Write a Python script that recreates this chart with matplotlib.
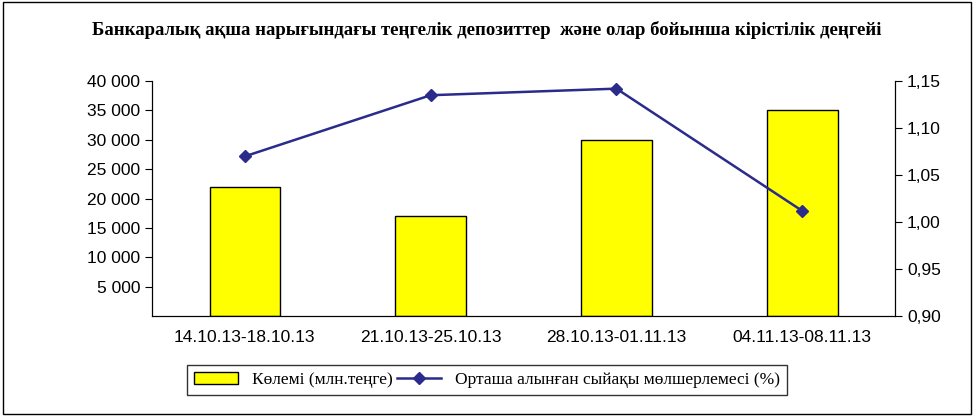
import matplotlib.pyplot as plt
from matplotlib.ticker import FuncFormatter
from matplotlib.patches import Rectangle

periods = ["14.10.13-18.10.13", "21.10.13-25.10.13", "28.10.13-01.11.13", "04.11.13-08.11.13"]
volume = [22000, 17000, 30000, 35000]
rate = [1.07, 1.135, 1.142, 1.012]

plt.rcParams["font.family"] = ["Liberation Sans", "DejaVu Sans"]

fig = plt.figure(figsize=(9.74, 4.16), dpi=100)
ax = fig.add_axes([0.156, 0.24, 0.763, 0.565])
ax2 = ax.twinx()

x = range(len(periods))
bars = ax.bar(x, volume, width=0.38, color="#FFFF00", edgecolor="black", linewidth=1,
              label="Көлемі (млн.теңге)")
line, = ax2.plot(x, rate, color="#2B2B8C", marker="D", markersize=6, linewidth=1.8,
                 label="Орташа алынған сыйақы мөлшерлемесі (%)")

ax.set_xlim(-0.5, 3.5)
ax.set_ylim(0, 40000)
ax.set_yticks(range(5000, 40001, 5000))
ax.yaxis.set_major_formatter(FuncFormatter(lambda v, p: f"{int(v):,}".replace(",", " ")))
ax2.set_ylim(0.90, 1.15)
ax2.set_yticks([0.90, 0.95, 1.00, 1.05, 1.10, 1.15])
ax2.yaxis.set_major_formatter(FuncFormatter(lambda v, p: f"{v:.2f}".replace(".", ",")))
ax.set_xticks(list(x))
ax.set_xticklabels(periods)

for a in (ax, ax2):
    a.spines["top"].set_visible(False)
    a.tick_params(labelsize=12.5, direction="out", length=5)
ax.tick_params(axis="x", length=0, pad=10)

fig.text(0.5, 0.915, "Банкаралық ақша нарығындағы теңгелік депозиттер  және олар бойынша кірістілік деңгейі",
         ha="center", fontsize=13.5, fontweight="bold", family="Liberation Serif")

leg = fig.legend([bars, line], [bars.get_label(), line.get_label()], loc="lower center",
                 bbox_to_anchor=(0.5, 0.03), ncol=2, frameon=True, fancybox=False,
                 edgecolor="black", prop={"family": "Liberation Serif", "size": 12.5},
                 handlelength=2.5, columnspacing=0.3)

fig.patches.append(Rectangle((0.003, 0.005), 0.994, 0.99, transform=fig.transFigure,
                             fill=False, edgecolor="black", linewidth=1))

fig.savefig("out.png", dpi=100)
